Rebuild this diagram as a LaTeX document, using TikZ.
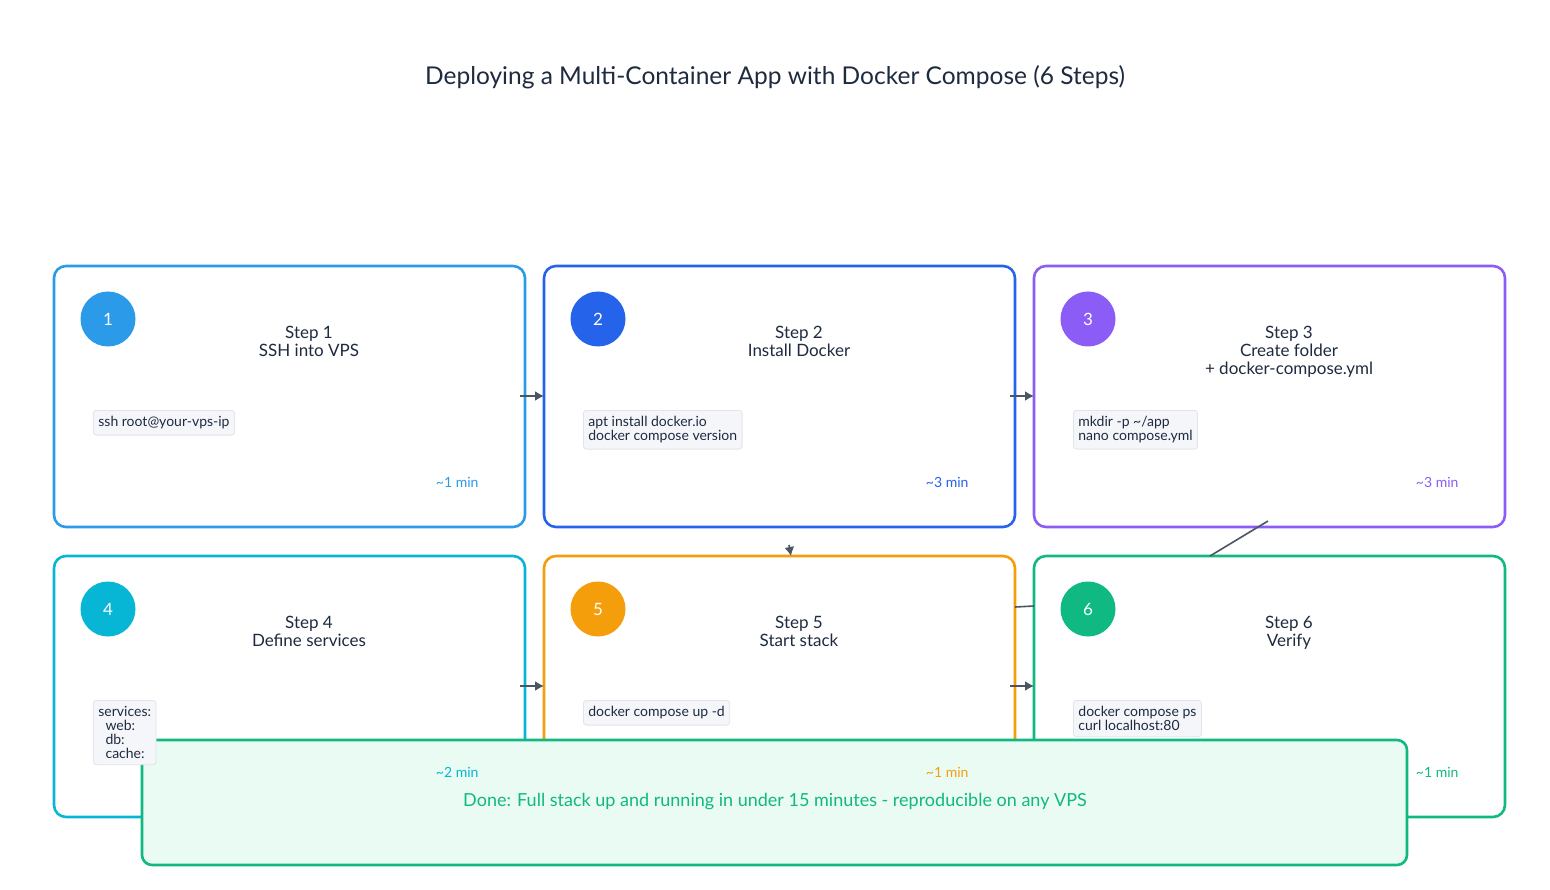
\documentclass[tikz,border=0pt]{standalone}
\usepackage{fontspec}
\setmainfont{Lato}
\begin{document}
\begin{tikzpicture}[x=1pt,y=-1pt,
  box/.style={draw=#1,line width=2.6pt,rounded corners=12pt,fill=white},
  num/.style={circle,fill=#1,minimum size=55pt,inner sep=0pt,text=white,font=\fontsize{17}{17}\selectfont},
  ttl/.style={align=center,text=txt,font=\fontsize{17}{18}\selectfont},
  code/.style={draw=cb,fill=cf,rounded corners=3pt,line width=0.8pt,align=left,anchor=north west,inner xsep=5pt,inner ysep=6pt,text=txt,font=\fontsize{14}{14}\selectfont},
  mn/.style={text=#1,anchor=east,font=\fontsize{14}{14}\selectfont},
  arr/.style={draw=ar,line width=1.6pt,-{Latex[length=9pt,width=10pt]}}]
\usetikzlibrary{arrows.meta}
\definecolor{txt}{HTML}{1E2B3F}
\definecolor{cb}{HTML}{E1E4EA}
\definecolor{cf}{HTML}{F5F6FA}
\definecolor{ar}{HTML}{4B5563}
\definecolor{c1}{HTML}{2B9AE8}
\definecolor{c2}{HTML}{2563EB}
\definecolor{c3}{HTML}{8B5CF6}
\definecolor{c4}{HTML}{06B6D4}
\definecolor{c5}{HTML}{F59E0B}
\definecolor{c6}{HTML}{10B981}
\definecolor{dn}{HTML}{EAFBF3}
\useasboundingbox[fill=white] (0,0) rectangle (1550,890);
\node[text=txt,font=\fontsize{24.5}{24.5}\selectfont] (title) at (775,77) {Deploying a Multi-Container App with Docker Compose (6 Steps)};
% boxes
\draw[box=c1] (54,266) rectangle (525,527);
\draw[box=c2] (544,266) rectangle (1015,527);
\draw[box=c3] (1034,266) rectangle (1505,527);
\draw[box=c4] (54,556) rectangle (525,817);
\draw[box=c5] (544,556) rectangle (1015,817);
\draw[box=c6] (1034,556) rectangle (1505,817);
% connectors
\coordinate (e1) at (520,396); \coordinate (s2) at (544,396);
\coordinate (e2) at (1010,396); \coordinate (s3) at (1034,396);
\coordinate (e4) at (520,686); \coordinate (s5) at (544,686);
\coordinate (e5) at (1010,686); \coordinate (s6) at (1034,686);
\draw[arr] (e1) -- (s2); \draw[arr] (e2) -- (s3);
\draw[arr] (e4) -- (s5); \draw[arr] (e5) -- (s6);
\coordinate (r3) at (1268,521); \coordinate (r6) at (1210,556);
\draw[ar,line width=1.6pt] (r3) -- (r6);
\coordinate (m5) at (1015,607); \coordinate (m6) at (1034,606);
\draw[ar,line width=1.6pt] (m5) -- (m6);
\coordinate (t5a) at (789,545); \coordinate (t5b) at (791,556);
\draw[arr] (t5a) -- (t5b);
% done box
\draw[draw=c6,fill=dn,line width=2.6pt,rounded corners=10pt] (142,740) rectangle (1407,865);
\node[text=c6,font=\fontsize{18}{18}\selectfont] (done) at (775,802) {Done: Full stack up and running in under 15 minutes - reproducible on any VPS};
% contents
\node[num=c1] (n1) at (108,319) {1};
\node[num=c2] (n2) at (598,319) {2};
\node[num=c3] (n3) at (1088,319) {3};
\node[num=c4] (n4) at (108,609) {4};
\node[num=c5] (n5) at (598,609) {5};
\node[num=c6] (n6) at (1088,609) {6};
\node[ttl,anchor=north] (t1) at (309,323) {Step 1\\SSH into VPS};
\node[ttl,anchor=north] (t2) at (799,323) {Step 2\\Install Docker};
\node[ttl,anchor=north] (t3) at (1289,323) {Step 3\\Create folder\\+ docker-compose.yml};
\node[ttl,anchor=north] (t4) at (309,613) {Step 4\\Define services};
\node[ttl,anchor=north] (t5) at (799,613) {Step 5\\Start stack};
\node[ttl,anchor=north] (t6) at (1289,613) {Step 6\\Verify};
\node[code] (k1) at (93,410) {ssh root@your-vps-ip};
\node[code] (k2) at (583,410) {apt install docker.io\\docker compose version};
\node[code] (k3) at (1073,410) {mkdir -p \textasciitilde/app\\nano compose.yml};
\node[code] (k4) at (93,700) {services:\\\ \ web:\\\ \ db:\\\ \ cache:};
\node[code] (k5) at (583,700) {docker compose up -d};
\node[code] (k6) at (1073,700) {docker compose ps\\curl localhost:80};
\node[mn=c1] (m1) at (482,482) {\textasciitilde1 min};
\node[mn=c2] (m2) at (972,482) {\textasciitilde3 min};
\node[mn=c3] (m3) at (1462,482) {\textasciitilde3 min};
\node[mn=c4] (m4) at (482,772) {\textasciitilde2 min};
\node[mn=c5] (m5t) at (972,772) {\textasciitilde1 min};
\node[mn=c6] (m6t) at (1462,772) {\textasciitilde1 min};
\end{tikzpicture}
\end{document}
